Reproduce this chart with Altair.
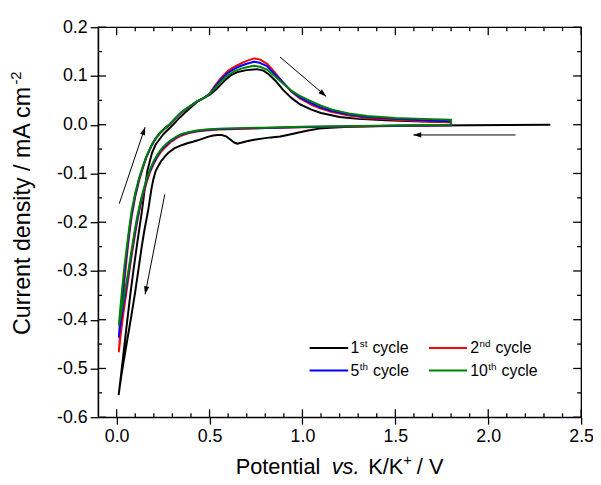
import math
import altair as alt
import pandas as pd

# ------------------------------------------------------------------ data
# 1st cycle: cathodic sweep from OCV, then anodic sweep
c1_cat_x = [2.33, 2.1, 1.9, 1.7, 1.5, 1.35, 1.25, 1.15, 1.09, 1.03, 0.968, 0.92, 0.88, 0.83,
            0.79, 0.74, 0.70, 0.67, 0.649, 0.63, 0.61, 0.59, 0.565, 0.543, 0.52, 0.49, 0.46,
            0.437, 0.41, 0.38, 0.35, 0.312, 0.28, 0.26, 0.241, 0.225, 0.21, 0.197, 0.188,
            0.179, 0.17, 0.16, 0.15, 0.135, 0.12, 0.099, 0.08, 0.06, 0.04, 0.025, 0.011]
c1_cat_y = [0.0, -0.0005, -0.001, -0.0015, -0.002, -0.003, -0.004, -0.006, -0.008, -0.012,
            -0.017, -0.021, -0.024, -0.026, -0.028, -0.031, -0.034, -0.037, -0.039, -0.036,
            -0.030, -0.024, -0.021, -0.021, -0.022, -0.025, -0.029, -0.032, -0.035, -0.038,
            -0.042, -0.048, -0.057, -0.065, -0.074, -0.084, -0.095, -0.113, -0.130, -0.152,
            -0.175, -0.195, -0.215, -0.250, -0.290, -0.345, -0.390, -0.435, -0.480, -0.515,
            -0.553]
c1_an_x = [0.011, 0.02, 0.035, 0.05, 0.073, 0.09, 0.11, 0.135, 0.15, 0.165, 0.19, 0.211, 0.25,
           0.303, 0.33, 0.36, 0.40, 0.437, 0.47, 0.50, 0.54, 0.58, 0.613, 0.65, 0.70, 0.755,
           0.79, 0.82, 0.86, 0.897, 0.94, 0.986, 1.048, 1.1, 1.2, 1.3, 1.45, 1.6, 1.8]
c1_an_y = [-0.553, -0.525, -0.475, -0.425, -0.350, -0.300, -0.245, -0.180, -0.135, -0.095,
           -0.058, -0.040, -0.020, 0.0, 0.011, 0.022, 0.036, 0.048, 0.055, 0.061, 0.074, 0.090,
           0.101, 0.108, 0.112, 0.114, 0.111, 0.103, 0.088, 0.071, 0.055, 0.042, 0.031, 0.024,
           0.016, 0.012, 0.009, 0.007, 0.005]

# later cycles: shared potentials, separate currents
cat_x = [1.8, 1.6, 1.4, 1.2, 1.0, 0.8, 0.65, 0.55, 0.48, 0.43, 0.39, 0.35, 0.32, 0.29, 0.265,
         0.24, 0.22, 0.2, 0.18, 0.16, 0.145, 0.128, 0.11, 0.095, 0.08, 0.065, 0.05, 0.035,
         0.022, 0.012]
red_cat_y = [-0.001, -0.002, -0.003, -0.004, -0.005, -0.007, -0.009, -0.010, -0.012, -0.014,
             -0.017, -0.022, -0.028, -0.036, -0.045, -0.055, -0.066, -0.080, -0.097, -0.120,
             -0.140, -0.165, -0.200, -0.235, -0.270, -0.310, -0.350, -0.390, -0.430, -0.465]
blue_cat_y = [-0.001, -0.0015, -0.0025, -0.0035, -0.0045, -0.0065, -0.008, -0.009, -0.011,
              -0.013, -0.016, -0.020, -0.026, -0.034, -0.042, -0.052, -0.063, -0.077, -0.094,
              -0.116, -0.136, -0.161, -0.195, -0.228, -0.264, -0.302, -0.338, -0.372, -0.405,
              -0.435]
green_cat_y = [0.0, -0.001, -0.002, -0.003, -0.004, -0.006, -0.007, -0.008, -0.010, -0.012,
               -0.015, -0.019, -0.025, -0.032, -0.040, -0.050, -0.061, -0.074, -0.091, -0.113,
               -0.133, -0.158, -0.190, -0.222, -0.258, -0.295, -0.330, -0.362, -0.390, -0.410]

an_x = [0.012, 0.02, 0.03, 0.042, 0.055, 0.068, 0.081, 0.1, 0.122, 0.14, 0.16, 0.188, 0.21,
        0.235, 0.26, 0.286, 0.315, 0.347, 0.38, 0.41, 0.437, 0.47, 0.5, 0.525, 0.56, 0.6, 0.64,
        0.67, 0.70, 0.74, 0.77, 0.81, 0.85, 0.897, 0.94, 0.986, 1.048, 1.1, 1.16, 1.25, 1.35,
        1.5, 1.65, 1.8]
red_an_y = [-0.465, -0.42, -0.375, -0.32, -0.27, -0.225, -0.188, -0.148, -0.113, -0.09,
            -0.067, -0.043, -0.029, -0.017, -0.008, 0.0, 0.012, 0.024, 0.034, 0.042,
            0.049, 0.055, 0.064, 0.078, 0.095, 0.111, 0.120, 0.126, 0.131, 0.136,
            0.134, 0.125, 0.108, 0.086, 0.068, 0.054, 0.041, 0.033, 0.026, 0.019,
            0.014, 0.010, 0.007, 0.005]
blue_an_y = [-0.435, -0.395, -0.355, -0.305, -0.26, -0.218, -0.182, -0.144, -0.110, -0.088,
             -0.066, -0.042, -0.028, -0.016, -0.007, 0.001, 0.013, 0.025, 0.034, 0.042,
             0.049, 0.055, 0.063, 0.076, 0.092, 0.107, 0.116, 0.121, 0.125, 0.129,
             0.127, 0.120, 0.104, 0.086, 0.069, 0.056, 0.044, 0.035, 0.028, 0.021,
             0.016, 0.012, 0.009, 0.007]
green_an_y = [-0.410, -0.375, -0.335, -0.29, -0.25, -0.21, -0.176, -0.140, -0.108, -0.087,
              -0.065, -0.042, -0.028, -0.016, -0.007, 0.001, 0.013, 0.025, 0.034, 0.042,
              0.049, 0.055, 0.063, 0.073, 0.088, 0.102, 0.111, 0.115, 0.118, 0.121,
              0.119, 0.113, 0.100, 0.084, 0.070, 0.059, 0.048, 0.039, 0.031, 0.023,
              0.018, 0.014, 0.012, 0.010]

cycle_names = ["1st", "2nd", "5th", "10th"]
cycle_colors = ["#000000", "#ff0000", "#0000ff", "#008000"]

x_major = [0.0, 0.5, 1.0, 1.5, 2.0, 2.5]
x_minor = [0.1, 0.2, 0.3, 0.4, 0.6, 0.7, 0.8, 0.9, 1.1, 1.2, 1.3, 1.4, 1.6, 1.7, 1.8, 1.9,
           2.1, 2.2, 2.3, 2.4]
y_major = [-0.6, -0.5, -0.4, -0.3, -0.2, -0.1, 0.0, 0.1, 0.2]
y_minor = [-0.55, -0.45, -0.35, -0.25, -0.15, -0.05, 0.05, 0.15]

# sweep-direction arrows (start -> tip), in data units
arrow_x1 = [0.014, 0.259, 0.879, 2.147]
arrow_y1 = [-0.162, -0.143, 0.139, -0.021]
arrow_x2 = [0.153, 0.153, 1.128, 1.597]
arrow_y2 = [-0.005, -0.348, 0.058, -0.021]

# ------------------------------------------------------------------ setup
FONT = "Liberation Sans"
W, H = 488, 394
XD = [-0.1, 2.5]
YD = [-0.6, 0.2]
xs = alt.Scale(domain=XD, nice=False, zero=False)
ys = alt.Scale(domain=YD, nice=False, zero=False)
x_axis = alt.Axis(values=x_major, format=".1f", tickSize=7, labelPadding=4, title=None,
                  grid=False, labelFlush=False, labelOverlap=False, labelBound=False)
y_axis = alt.Axis(values=y_major, format=".1f", tickSize=8, labelPadding=3, title=None,
                  grid=False, labelOverlap=False, labelFlush=False,
                  labelExpr="replace(datum.label, '\u2212', '-')")


def X(field):
    return alt.X(field, scale=xs, axis=x_axis, title=None)


def Y(field):
    return alt.Y(field, scale=ys, axis=y_axis, title=None)


def cycle_frame(xa, ya, xb, yb, close=False):
    xx = list(xa) + list(xb)
    yy = list(ya) + list(yb)
    if close:
        xx.append(xa[0])
        yy.append(ya[0])
    return pd.DataFrame({"x": xx, "y": yy, "i": range(len(xx))})


frames = [
    cycle_frame(c1_cat_x, c1_cat_y, c1_an_x, c1_an_y),
    cycle_frame(cat_x, red_cat_y, an_x, red_an_y, close=True),
    cycle_frame(cat_x, blue_cat_y, an_x, blue_an_y, close=True),
    cycle_frame(cat_x, green_cat_y, an_x, green_an_y, close=True),
]

layers = []
for df, col in zip(frames, cycle_colors):
    layers.append(
        alt.Chart(df).mark_line(color=col, strokeWidth=2, strokeJoin="round", strokeCap="round")
        .encode(x=X("x:Q"), y=Y("y:Q"), order="i:Q")
    )


# inward ticks on all four sides
def xticks(vals, length, top):
    d = pd.DataFrame({"x": vals})
    if top:
        yy, yy2 = 0, length
    else:
        yy, yy2 = H, H - length
    return alt.Chart(d).mark_rule(color="black", strokeWidth=1.3).encode(
        x=X("x:Q"), y=alt.value(yy), y2=alt.value(yy2))


def yticks(vals, length, right):
    d = pd.DataFrame({"y": vals})
    if right:
        xx, xx2 = W, W - length
    else:
        xx, xx2 = 0, length
    return alt.Chart(d).mark_rule(color="black", strokeWidth=1.3).encode(
        y=Y("y:Q"), x=alt.value(xx), x2=alt.value(xx2))


layers += [
    xticks(x_major, 8, False), xticks(x_minor, 4, False),
    xticks(x_major, 8, True), xticks(x_minor, 4, True),
    yticks(y_major, 8, False), yticks(y_minor, 4, False),
    yticks(y_major, 8, True), yticks(y_minor, 4, True),
]

# arrows
px_x = W / (XD[1] - XD[0])
px_y = H / (YD[1] - YD[0])
angles = []
for a, b, c, d in zip(arrow_x1, arrow_y1, arrow_x2, arrow_y2):
    dx = (c - a) * px_x
    dy = -(d - b) * px_y
    angles.append(math.degrees(math.atan2(dx, -dy)) % 360)
arr = pd.DataFrame({"x": arrow_x1, "y": arrow_y1, "x2": arrow_x2, "y2": arrow_y2,
                    "ang": angles})
layers.append(
    alt.Chart(arr).mark_rule(color="black", strokeWidth=1).encode(
        x=X("x:Q"), y=Y("y:Q"), x2="x2:Q", y2="y2:Q")
)
tips = pd.DataFrame({"x": arrow_x2, "y": arrow_y2, "ang": angles})
layers.append(
    alt.Chart(tips).mark_point(shape="M0,0L-0.33,1L0.33,1Z", filled=True, color="black",
                               opacity=1, size=256, strokeWidth=0).encode(
        x=X("x:Q"), y=Y("y:Q"), angle=alt.Angle("ang:Q", scale=None))
)


def txt(s, x, y, size, angle=0, italic=False, align="left", baseline="alphabetic"):
    return alt.Chart(pd.DataFrame({"t": [s]})).mark_text(
        text=s, font=FONT, fontSize=size, fontStyle="italic" if italic else "normal",
        align=align, baseline=baseline, angle=angle, color="black"
    ).encode(x=alt.value(x), y=alt.value(y))


def width(s, size):
    w = {"1": .556, "2": .556, "5": .556, "0": .556, "s": .5, "t": .278, "n": .556,
         "d": .556, "h": .556}
    return sum(w[c] for c in s) * size


# legend (drawn by hand so the ordinal suffixes can be superscripts)
LEG_FS, SUP_FS = 16, 10
legend_rows = [324, 346.7]
legend_cols = [(213.7, 252.7, 255), (334.3, 372.7, 376)]
entries = [("1", "st"), ("2", "nd"), ("5", "th"), ("10", "th")]
for k, (num, suf) in enumerate(entries):
    r, c = divmod(k, 2)
    x0, x1, tx = legend_cols[c]
    yy = legend_rows[r]
    layers.append(alt.Chart(pd.DataFrame({"t": [0]})).mark_rule(
        color=cycle_colors[k], strokeWidth=2).encode(
        x=alt.value(x0), x2=alt.value(x1), y=alt.value(yy)))
    layers.append(txt(num, tx, yy + 5.5, LEG_FS))
    sx = tx + width(num, LEG_FS) + 0.5
    layers.append(txt(suf, sx, yy - 0.5, SUP_FS))
    layers.append(txt("cycle", sx + width(suf, SUP_FS) + 5, yy + 5.5, LEG_FS))

# axis titles (pieces for italics and superscripts)
TFS = 22
base = 451
layers += [
    txt("Potential", 139, base, TFS),
    txt("vs.", 236, base, TFS, italic=True),
    txt("K/K", 273, base, TFS),
    txt("+", 308.5, base - 9, 14),
    txt("/ V", 322, base, TFS),
]
YFS = 23.5
ys0 = 311
main_w = 10.725 * YFS
layers += [
    txt("Current density / mA cm", -69, ys0, YFS, angle=270),
    txt("-2", -78, ys0 - main_w - 1, 15, angle=270),
]

chart = alt.layer(*layers).properties(
    width=W, height=H,
    autosize=alt.AutoSizeParams(type="none"),
    padding={"left": 91, "top": 17, "right": 12, "bottom": 60},
).configure_view(stroke="black", strokeWidth=1.3).configure_axis(
    labelFont=FONT, labelFontSize=18, labelColor="black", tickColor="black",
    domainColor="black", tickWidth=1.3, domainWidth=1.3,
)

chart.save("out.html", embed_options={"renderer": "svg", "actions": False})
